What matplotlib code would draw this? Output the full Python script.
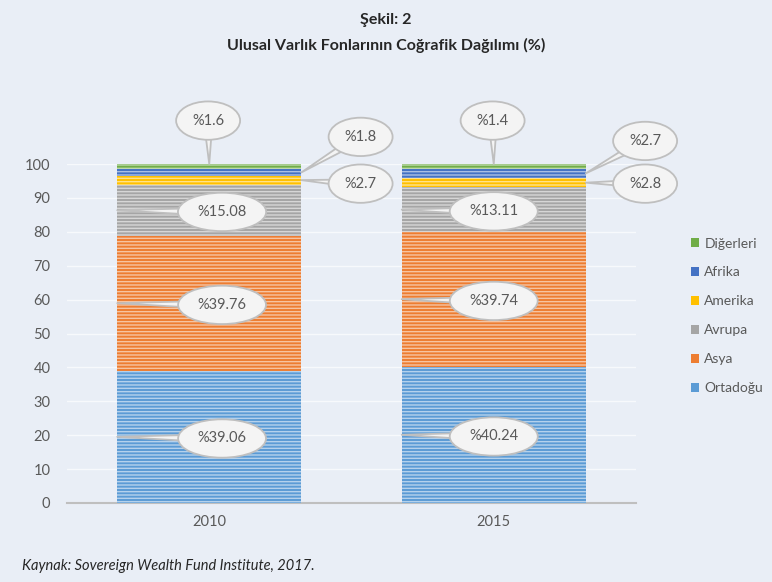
import matplotlib
matplotlib.use("Agg")
import matplotlib.pyplot as plt
from matplotlib.patches import Patch
import numpy as np

# data
years = ["2010", "2015"]
regions = ["Ortadoğu", "Asya", "Avrupa", "Amerika", "Afrika", "Diğerleri"]
ortadogu = [39.06, 40.24]
asya = [39.76, 39.74]
avrupa = [15.08, 13.11]
amerika = [2.7, 2.8]
afrika = [1.8, 2.7]
digerleri = [1.6, 1.4]
yticks = [0, 10, 20, 30, 40, 50, 60, 70, 80, 90, 100]

series = [ortadogu, asya, avrupa, amerika, afrika, digerleri]
colors = ["#5b9bd5", "#ed7d31", "#a5a5a5", "#ffc000", "#4472c4", "#70ad47"]

bg = "#e9eef6"
txt = "#595959"
plt.rcParams["font.family"] = ["Lato", "DejaVu Sans"]
plt.rcParams["hatch.linewidth"] = 1.0

fig = plt.figure(figsize=(7.72, 5.82), dpi=100, facecolor=bg)
ax = fig.add_axes([67 / 772, 79 / 582, 569 / 772, 339 / 582])
ax.set_facecolor(bg)

x = np.arange(len(years))
width = 0.647
bottom = np.zeros(len(years))
for vals, col, name in zip(series, colors, regions):
    ax.bar(x, vals, width, bottom=bottom, color=col, edgecolor=(1, 1, 1, 0.55),
           linewidth=0, hatch="-----", label=name, zorder=3)
    bottom += np.array(vals)

ax.set_xlim(-0.5, 1.5)
ax.set_ylim(0, 100)
ax.set_yticks(yticks)
ax.set_xticks(x)
ax.set_xticklabels(years)
ax.tick_params(length=0, colors=txt, labelsize=10.5)
ax.tick_params(axis="y", pad=12)
ax.tick_params(axis="x", pad=9)
ax.grid(axis="y", color="#f7f9fc", linewidth=1.0, zorder=0)
for s in ["top", "right", "left"]:
    ax.spines[s].set_visible(False)
ax.spines["bottom"].set_color("#bfbfbf")
ax.spines["bottom"].set_linewidth(1.5)


def callout(label, xy, xytext):
    ax.annotate(label, xy=xy, xytext=xytext, textcoords="data",
                ha="center", va="center", fontsize=10.5, color=txt, zorder=5,
                bbox=dict(boxstyle="ellipse,pad=0.45", fc="#f4f4f4", ec="#bfbfbf", lw=1.3),
                arrowprops=dict(arrowstyle="wedge,tail_width=0.6", fc="#f4f4f4",
                                ec="#bfbfbf", lw=1.3, patchA=None, shrinkA=0, shrinkB=0),
                annotation_clip=False)


# main segment labels: pointer to the bar's left edge
text_dx = [0.045, 0.0]
for i in range(len(years)):
    base = 0.0
    for k in range(3):
        v = series[k][i]
        mid = base + v / 2
        callout("%" + f"{v:g}", (x[i] - width / 2, mid), (x[i] + text_dx[i], mid - 0.5))
        base += v

# small top segments
for i in range(len(years)):
    top_base = ortadogu[i] + asya[i] + avrupa[i]
    am_mid = top_base + amerika[i] / 2
    af_mid = top_base + amerika[i] + afrika[i] / 2
    callout("%" + f"{digerleri[i]:g}", (x[i], 100), (x[i] - 0.004, 112.8))
    callout("%" + f"{afrika[i]:g}", (x[i] + width / 2, af_mid), (x[i] + 0.532, 108.0 - 1.2 * i))
    callout("%" + f"{amerika[i]:g}", (x[i] + width / 2, am_mid), (x[i] + 0.532, 94.2))

handles = [Patch(facecolor=c, edgecolor="none") for c in colors][::-1]
fig.legend(handles, regions[::-1], loc="upper left", bbox_to_anchor=(678 / 772, 1 - 225 / 582),
           frameon=False, fontsize=10, labelcolor=txt, handlelength=0.6, handleheight=0.6,
           handletextpad=0.4, labelspacing=1.22)

fig.text(0.5, 1 - 20 / 582, "Şekil: 2", ha="center", va="center",
         fontsize=11.5, fontweight="bold", color="#262626")
fig.text(0.5, 1 - 45 / 582, "Ulusal Varlık Fonlarının Coğrafik Dağılımı (%)", ha="center",
         va="center", fontsize=11.5, fontweight="bold", color="#262626")
fig.text(22 / 772, 1 - 566 / 582, "Kaynak: Sovereign Wealth Fund Institute, 2017.",
         ha="left", va="center", fontsize=10.5, style="italic", color="#262626")

fig.savefig("out.png", dpi=100, facecolor=bg)
